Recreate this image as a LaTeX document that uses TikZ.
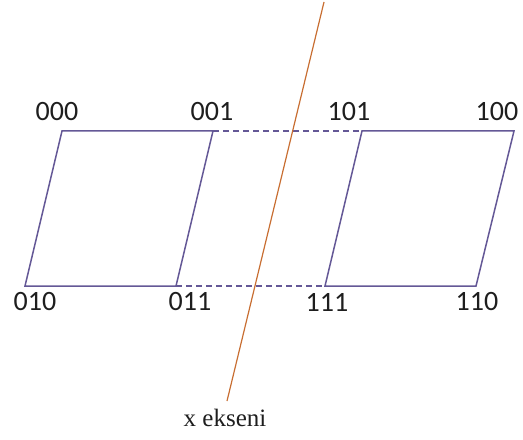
\documentclass[tikz,border=0pt]{standalone}
\usepackage{fontspec}
\setmainfont{Carlito}
\newfontfamily\achsenfont{Liberation Serif}
\usepackage{tikz}
\definecolor{kantenfarbe}{RGB}{100,88,150}
\definecolor{achsenfarbe}{RGB}{200,110,50}
\definecolor{textfarbe}{RGB}{30,30,30}

\begin{document}
\begin{tikzpicture}[x=0.5pt, y=0.5pt,
		kante/.style={draw=kantenfarbe, line width=0.75pt},
		luecke/.style={draw=kantenfarbe, line width=0.75pt, dashed, dash pattern=on 3pt off 2pt},
		ecke/.style={text=textfarbe, font=\fontsize{14}{16}\selectfont, inner sep=0pt},
		font=\fontsize{14}{16}\selectfont]
		% Bildbereich
		\useasboundingbox (0,0) rectangle (523,439);
		% Ecken
		\coordinate (v000) at (62,308);
		\coordinate (v001) at (213,308);
		\coordinate (v101) at (362,308);
		\coordinate (v100) at (514,308);
		\coordinate (v010) at (25,153);
		\coordinate (v011) at (176,153);
		\coordinate (v111) at (325,153);
		\coordinate (v110) at (476,153);
		% Beschriftung der Ecken
		\foreach \n/\x in {000/57, 001/212, 101/349, 100/497}
			\node[ecke] (l\n) at (\x,327) {\n};
		\foreach \n/\x in {010/35, 011/190, 111/327, 110/477}
			\node[ecke] (l\n) at (\x,137) {\n};
		% Parallelogramme
		\draw[kante] (v000) -- (v001) -- (v011) -- (v010) -- cycle;
		\draw[kante] (v101) -- (v100) -- (v110) -- (v111) -- cycle;
		% gestrichelte Verbindungen
		\draw[luecke] (v001) -- (v101);
		\draw[luecke] (v011) -- (v111);
		% Achse
		\coordinate (oben) at (324,437);
		\coordinate (unten) at (227,38);
		\draw[draw=achsenfarbe, line width=0.6pt] (oben) -- (unten);
		\node[text=textfarbe, inner sep=0pt, font=\achsenfont\fontsize{12.5}{14}\selectfont] (achse) at (225,21) {x ekseni};
	\end{tikzpicture}
\end{document}
